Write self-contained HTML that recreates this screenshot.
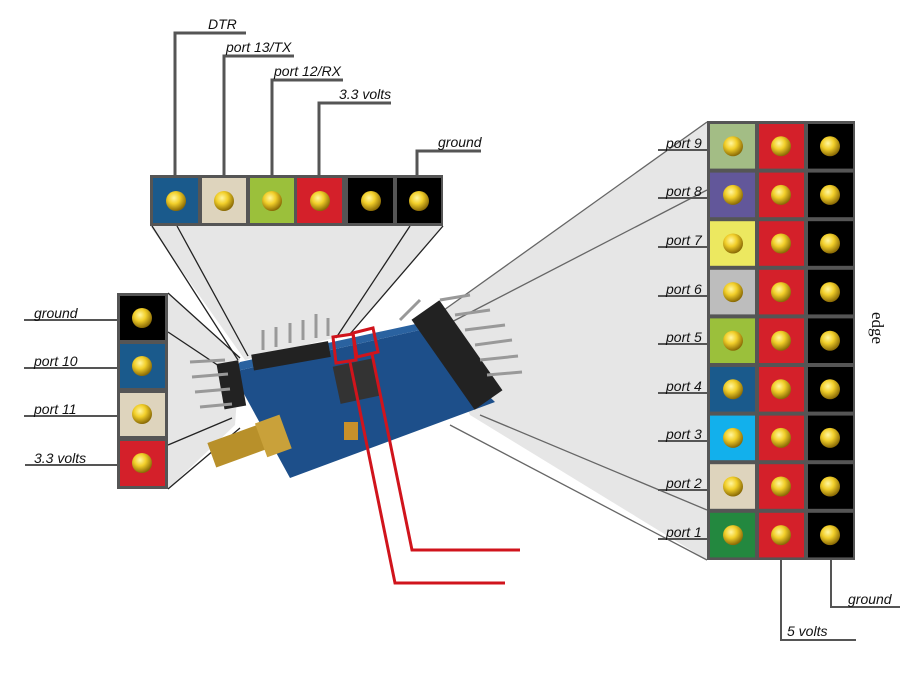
<!DOCTYPE html>
<html><head><meta charset="utf-8"><style>
html,body{margin:0;padding:0;background:#fff;}
svg{display:block;}
text{font-family:"Liberation Sans",sans-serif;font-style:italic;font-size:14px;fill:#111;}
</style></head><body>
<svg width="920" height="674" viewBox="0 0 920 674" xmlns="http://www.w3.org/2000/svg">
<defs>
<radialGradient id="pin" cx="40%" cy="35%" r="65%">
<stop offset="0" stop-color="#fff6a0"/><stop offset="0.45" stop-color="#f2cf2a"/><stop offset="1" stop-color="#8a6a05"/>
</radialGradient>
</defs>
<polygon points="150,226 443,226 350,334 245,360" fill="#e6e6e6"/>
<polygon points="168,293 168,489 235,425 240,358" fill="#e6e6e6"/>
<polygon points="707,122 707,560 470,415 430,320" fill="#e6e6e6"/>
<g stroke="#222" stroke-width="1.3">
<line x1="152" y1="226" x2="238" y2="360"/>
<line x1="177" y1="226" x2="248" y2="356"/>
<line x1="410" y1="226" x2="336" y2="338"/>
<line x1="443" y1="226" x2="350" y2="334"/>
<line x1="168" y1="293" x2="240" y2="358"/>
<line x1="168" y1="332" x2="228" y2="372"/>
<line x1="168" y1="445" x2="232" y2="418"/>
<line x1="168" y1="489" x2="240" y2="428"/>
</g>
<g stroke="#666" stroke-width="1.3">
<line x1="707" y1="122" x2="430" y2="320"/>
<line x1="707" y1="190" x2="440" y2="328"/>
<line x1="707" y1="510" x2="480" y2="415"/>
<line x1="707" y1="560" x2="450" y2="425"/>
</g>
<polygon points="232,372 420,330 495,402 290,478" fill="#1d4f8a"/>
<polygon points="232,372 240,362 425,322 420,330" fill="#2a62a0"/>
<rect x="336" y="362" width="40" height="38" fill="#333" transform="rotate(-12 357 380)"/>
<g fill="#222"><rect x="252" y="348" width="78" height="16" transform="rotate(-10 290 356)"/>
<rect x="220" y="362" width="22" height="46" transform="rotate(-10 230 383)"/>
<rect x="440" y="300" width="34" height="110" transform="rotate(-35 457 355)"/></g>
<g stroke="#999" stroke-width="3">
<line x1="263" y1="350" x2="263" y2="330"/><line x1="276" y1="347" x2="276" y2="327"/>
<line x1="290" y1="343" x2="290" y2="323"/><line x1="303" y1="340" x2="303" y2="320"/>
<line x1="316" y1="338" x2="316" y2="314"/><line x1="328" y1="336" x2="328" y2="318"/>
<line x1="190" y1="362" x2="225" y2="360"/><line x1="192" y1="377" x2="228" y2="374"/>
<line x1="195" y1="392" x2="230" y2="389"/><line x1="200" y1="407" x2="232" y2="404"/>
<line x1="440" y1="300" x2="470" y2="295"/><line x1="455" y1="315" x2="490" y2="310"/>
<line x1="465" y1="330" x2="505" y2="325"/><line x1="475" y1="345" x2="512" y2="340"/>
<line x1="480" y1="360" x2="518" y2="356"/><line x1="487" y1="375" x2="522" y2="372"/>
<line x1="400" y1="320" x2="420" y2="300"/></g>
<rect x="210" y="432" width="55" height="26" fill="#b8902a" transform="rotate(-20 240 445)"/>
<rect x="260" y="418" width="26" height="36" fill="#c9a13a" transform="rotate(-20 273 435)"/>
<rect x="344" y="422" width="14" height="18" fill="#c8902a"/>
<g stroke="#d0141c" stroke-width="3" fill="none">
<polygon points="333,337 353,334 356,360 336,363"/>
<polygon points="353,333 373,328 378,352 357,357"/>
<polyline points="350,362 395,583 505,583"/>
<polyline points="372,354 412,550 520,550"/>
</g>
<rect x="150" y="175" width="293" height="51" fill="#555"/>
<rect x="153" y="178" width="45" height="45" fill="#1a5a8c"/>
<rect x="202" y="178" width="44" height="45" fill="#ded4bd"/>
<rect x="250" y="178" width="44" height="45" fill="#9bc03b"/>
<rect x="297" y="178" width="45" height="45" fill="#d4202a"/>
<rect x="348" y="178" width="45" height="45" fill="#000"/>
<rect x="397" y="178" width="44" height="45" fill="#000"/>
<g fill="url(#pin)"><circle cx="176" cy="201" r="10"/><circle cx="224" cy="201" r="10"/><circle cx="272" cy="201" r="10"/><circle cx="320" cy="201" r="10"/><circle cx="371" cy="201" r="10"/><circle cx="419" cy="201" r="10"/></g>
<g stroke="#555" stroke-width="3" fill="none">
<polyline points="175,176 175,33 246,33"/>
<polyline points="224,176 224,56 294,56"/>
<polyline points="272,176 272,80 343,80"/>
<polyline points="319,176 319,103 391,103"/>
<polyline points="417,176 417,151 481,151"/>
</g>
<text x="208" y="29">DTR</text>
<text x="226" y="52">port 13/TX</text>
<text x="274" y="76">port 12/RX</text>
<text x="339" y="99">3.3 volts</text>
<text x="438" y="147">ground</text>
<rect x="117" y="293" width="51" height="196" fill="#555"/>
<rect x="120" y="296" width="45" height="44" fill="#000"/>
<rect x="120" y="344" width="45" height="44" fill="#1a5a8c"/>
<rect x="120" y="393" width="45" height="43" fill="#ded4bd"/>
<rect x="120" y="441" width="45" height="45" fill="#d4202a"/>
<g fill="url(#pin)"><circle cx="142" cy="318" r="10"/><circle cx="142" cy="366" r="10"/><circle cx="142" cy="414" r="10"/><circle cx="142" cy="463" r="10"/></g>
<g stroke="#555" stroke-width="2"><line x1="24" y1="320" x2="117" y2="320"/><line x1="24" y1="368" x2="117" y2="368"/><line x1="24" y1="416" x2="117" y2="416"/><line x1="25" y1="465" x2="117" y2="465"/></g>
<text x="34" y="318">ground</text>
<text x="34" y="366">port 10</text>
<text x="34" y="414">port 11</text>
<text x="34" y="463">3.3 volts</text>
<rect x="707" y="121" width="148" height="439" fill="#555"/>
<g>
<rect x="710" y="124" width="45" height="44.6" fill="#a3bd85"/>
<rect x="710" y="172.6" width="45" height="44.6" fill="#62579a"/>
<rect x="710" y="221.2" width="45" height="44.6" fill="#ece860"/>
<rect x="710" y="269.8" width="45" height="44.6" fill="#bdbdbd"/>
<rect x="710" y="318.4" width="45" height="44.6" fill="#9bc03b"/>
<rect x="710" y="367" width="45" height="44.6" fill="#1a5a8c"/>
<rect x="710" y="415.6" width="45" height="44.6" fill="#12b0ec"/>
<rect x="710" y="464.2" width="45" height="44.6" fill="#ded4bd"/>
<rect x="710" y="512.8" width="45" height="44.6" fill="#23883f"/>
</g>
<g fill="#d4202a">
<rect x="759" y="124" width="45" height="44.6"/><rect x="759" y="172.6" width="45" height="44.6"/><rect x="759" y="221.2" width="45" height="44.6"/><rect x="759" y="269.8" width="45" height="44.6"/><rect x="759" y="318.4" width="45" height="44.6"/><rect x="759" y="367" width="45" height="44.6"/><rect x="759" y="415.6" width="45" height="44.6"/><rect x="759" y="464.2" width="45" height="44.6"/><rect x="759" y="512.8" width="45" height="44.6"/>
</g>
<g fill="#000">
<rect x="808" y="124" width="45" height="44.6"/><rect x="808" y="172.6" width="45" height="44.6"/><rect x="808" y="221.2" width="45" height="44.6"/><rect x="808" y="269.8" width="45" height="44.6"/><rect x="808" y="318.4" width="45" height="44.6"/><rect x="808" y="367" width="45" height="44.6"/><rect x="808" y="415.6" width="45" height="44.6"/><rect x="808" y="464.2" width="45" height="44.6"/><rect x="808" y="512.8" width="45" height="44.6"/>
</g>
<g fill="url(#pin)">
<circle cx="733" cy="146.3" r="10"/><circle cx="733" cy="194.9" r="10"/><circle cx="733" cy="243.5" r="10"/><circle cx="733" cy="292.1" r="10"/><circle cx="733" cy="340.7" r="10"/><circle cx="733" cy="389.3" r="10"/><circle cx="733" cy="437.9" r="10"/><circle cx="733" cy="486.5" r="10"/><circle cx="733" cy="535.1" r="10"/>
<circle cx="781" cy="146.3" r="10"/><circle cx="781" cy="194.9" r="10"/><circle cx="781" cy="243.5" r="10"/><circle cx="781" cy="292.1" r="10"/><circle cx="781" cy="340.7" r="10"/><circle cx="781" cy="389.3" r="10"/><circle cx="781" cy="437.9" r="10"/><circle cx="781" cy="486.5" r="10"/><circle cx="781" cy="535.1" r="10"/>
<circle cx="830" cy="146.3" r="10"/><circle cx="830" cy="194.9" r="10"/><circle cx="830" cy="243.5" r="10"/><circle cx="830" cy="292.1" r="10"/><circle cx="830" cy="340.7" r="10"/><circle cx="830" cy="389.3" r="10"/><circle cx="830" cy="437.9" r="10"/><circle cx="830" cy="486.5" r="10"/><circle cx="830" cy="535.1" r="10"/>
</g>
<g stroke="#555" stroke-width="2">
<line x1="658" y1="150" x2="708" y2="150"/><line x1="658" y1="198" x2="708" y2="198"/><line x1="658" y1="247" x2="708" y2="247"/><line x1="658" y1="296" x2="708" y2="296"/><line x1="658" y1="344" x2="708" y2="344"/><line x1="658" y1="393" x2="708" y2="393"/><line x1="658" y1="441" x2="708" y2="441"/><line x1="658" y1="490" x2="708" y2="490"/><line x1="658" y1="539" x2="708" y2="539"/>
</g>
<text x="666" y="148">port 9</text>
<text x="666" y="196">port 8</text>
<text x="666" y="245">port 7</text>
<text x="666" y="294">port 6</text>
<text x="666" y="342">port 5</text>
<text x="666" y="391">port 4</text>
<text x="666" y="439">port 3</text>
<text x="666" y="488">port 2</text>
<text x="666" y="537">port 1</text>
<g stroke="#555" stroke-width="2" fill="none">
<polyline points="781,560 781,640 856,640"/>
<polyline points="831,560 831,607 900,607"/>
</g>
<text x="787" y="636">5 volts</text>
<text x="848" y="604">ground</text>
<text x="0" y="0" transform="translate(872,312) rotate(90)" style="font-family:'Liberation Serif',serif;font-style:normal;font-size:17px">edge</text>
</svg>
</body></html>
